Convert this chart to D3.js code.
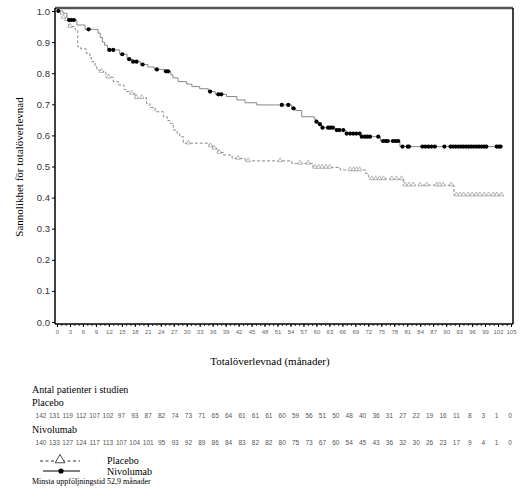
<!DOCTYPE html>
<html lang="sv">
<head>
<meta charset="UTF-8">
<title>Totalöverlevnad</title>
<script src="https://d3js.org/d3.v7.min.js"></script>
<style>
    body { margin: 0; background: #fff; }
    svg { display: block; }
    .serif { font-family: "Liberation Serif", "Times New Roman", "DejaVu Serif", serif; fill: #000; }
    .num { font-family: "Liberation Sans", Arial, sans-serif; font-size: 6.5px; fill: #555; }
</style>
</head>
<body>
<svg id="chart" width="526" height="500"></svg>
<script>
    // tick values
    const xTicks = d3.range(0, 106, 3);
    const yTicks = d3.range(0, 11).map(d => d / 10);

    // Kaplan-Meier step points [month, survival]
    const nivoSteps = [
        [0, 1.0], [1.4, 0.993], [2.3, 0.978], [2.6, 0.971], [4.6, 0.955], [6.5, 0.941],
        [9.5, 0.929], [10, 0.915], [10.5, 0.9], [11, 0.89], [11.7, 0.875], [14.5, 0.861],
        [16.2, 0.845], [17.5, 0.837], [19.3, 0.828], [21, 0.82], [22.5, 0.812], [24.8, 0.806],
        [26.3, 0.795], [26.8, 0.785], [28, 0.773], [30, 0.765], [31.2, 0.757], [33, 0.75],
        [35, 0.741], [36.6, 0.732], [39.2, 0.725], [41.6, 0.714], [43.5, 0.705], [46.2, 0.698],
        [54.3, 0.687], [55.2, 0.68], [56.6, 0.66], [59.5, 0.652], [59.9, 0.644], [60.5, 0.636],
        [61.2, 0.625], [64.3, 0.617], [66.8, 0.606], [70.2, 0.596], [74.8, 0.582], [79.3, 0.564]
    ];
    const nivoEnd = 102.6;
    const nivoCensor = [
        0.3, 2.8, 3.3, 3.9, 7.3, 12.1, 13.0, 15.1, 16.7, 17.6, 18.4, 19.8, 23.1, 25.2, 25.7,
        35.4, 37.3, 38.0, 52.0, 53.5, 54.7, 60.0, 60.8, 61.4, 62.7, 63.2, 63.8, 64.7, 65.3, 66.2,
        67.0, 67.8, 68.5, 69.2, 70.0, 70.5, 71.2, 71.8, 72.4, 74.3, 75.4, 76.0, 76.5, 77.7, 78.3,
        78.9, 79.9, 81.1, 81.4, 84.5, 85.2, 85.9, 86.6, 87.4, 89.6, 91.0, 91.6, 92.2, 92.8, 93.4,
        94.0, 94.6, 95.2, 95.8, 96.4, 97.0, 97.6, 98.2, 98.8, 99.3, 101.7, 102.2, 102.6
    ];

    const placeboSteps = [
        [0, 1.0], [0.8, 0.99], [1.2, 0.979], [2.0, 0.972], [2.7, 0.95], [4.2, 0.939],
        [4.8, 0.885], [5.5, 0.878], [6.8, 0.864], [7.6, 0.85], [8, 0.837], [8.8, 0.823],
        [9.2, 0.81], [10, 0.805], [11.3, 0.787], [13, 0.773], [14.2, 0.762], [15.5, 0.748],
        [15.9, 0.741], [16.8, 0.735], [18, 0.721], [20.7, 0.703], [21.5, 0.69], [22.7, 0.676],
        [24.6, 0.66], [25.5, 0.648], [26.1, 0.639], [26.9, 0.617], [27.8, 0.605], [28.4, 0.596],
        [29.2, 0.575], [35.2, 0.566], [36, 0.558], [37.2, 0.545], [38.5, 0.537], [40.5, 0.526],
        [43.5, 0.518], [54.3, 0.51], [59.2, 0.497], [65.5, 0.489], [71.3, 0.478], [72, 0.467],
        [72.5, 0.46], [80.2, 0.44], [91.8, 0.408]
    ];
    const placeboEnd = 102.8;
    const placeboCensor = [
        1.5, 2.2, 3.0, 10.3, 11.9, 17.3, 18.4, 19.6, 30.4, 35.5, 36.4, 37.5, 41.9, 44.2, 51.6,
        56.2, 58.1, 59.7, 60.5, 61.3, 62.2, 63.1, 67.8, 68.6, 69.3, 70.0, 72.8, 73.7, 74.6, 75.5,
        77.4, 78.5, 79.7, 80.5, 81.4, 82.4, 84.0, 85.5, 87.8, 88.5, 89.3, 91.2, 92.4, 93.2, 94.0,
        95.1, 96.0, 97.0, 97.8, 98.8, 99.8, 100.9, 101.7, 102.8
    ];

    // number at risk at each x tick
    const placeboRisk = [142, 131, 119, 112, 107, 102, 97, 93, 87, 82, 74, 73, 71, 65, 64, 61, 61, 61,
        60, 59, 56, 51, 50, 48, 40, 36, 31, 27, 22, 19, 16, 11, 8, 3, 1, 0];
    const nivoRisk = [140, 133, 127, 124, 117, 113, 107, 104, 101, 95, 93, 92, 89, 86, 84, 83, 82, 82,
        80, 75, 73, 67, 60, 54, 45, 43, 36, 32, 30, 26, 23, 17, 9, 4, 1, 0];

    const svg = d3.select("#chart");

    const x = d3.scaleLinear().domain([0, 105]).range([57, 511]);
    const y = d3.scaleLinear().domain([0, 1]).range([322, 11]);
    const frameL = 55, frameR = 513, frameT = 8, frameB = 324;

    // survival value at time t
    function survAt(steps, t) {
        const i = d3.bisectRight(steps.map(d => d[0]), t) - 1;
        return steps[Math.max(i, 0)][1];
    }

    // axes
    const yAxis = d3.axisLeft(y).tickValues(yTicks).tickFormat(d3.format(".1f")).tickSize(3).tickPadding(2);
    const gy = svg.append("g").attr("transform", `translate(${frameL},0)`).call(yAxis);
    gy.select(".domain").remove();
    gy.selectAll("text").attr("font-family", "Liberation Sans, Arial, sans-serif")
        .attr("font-size", 9.5).attr("fill", "#333");
    gy.selectAll("line").attr("stroke", "#000");

    const xMinor = d3.axisBottom(x).tickValues(d3.range(0, 106, 1)).tickSize(2).tickFormat("");
    const gxm = svg.append("g").attr("transform", `translate(0,${frameB})`).call(xMinor);
    gxm.select(".domain").remove();
    gxm.selectAll("line").attr("stroke", "#333");

    const xAxis = d3.axisBottom(x).tickValues(xTicks).tickSize(3).tickPadding(3);
    const gx = svg.append("g").attr("transform", `translate(0,${frameB})`).call(xAxis);
    gx.select(".domain").remove();
    gx.selectAll("text").attr("font-family", "Liberation Sans, Arial, sans-serif")
        .attr("font-size", 6).attr("fill", "#666");
    gx.selectAll("line").attr("stroke", "#000");

    // frame
    svg.append("line").attr("x1", frameL).attr("x2", frameR).attr("y1", frameT).attr("y2", frameT)
        .attr("stroke", "#555").attr("stroke-width", 2.5);
    svg.append("line").attr("x1", frameR).attr("x2", frameR).attr("y1", frameT).attr("y2", frameB)
        .attr("stroke", "#000").attr("stroke-width", 1.5);
    svg.append("line").attr("x1", frameL).attr("x2", frameL).attr("y1", frameT).attr("y2", frameB)
        .attr("stroke", "#000").attr("stroke-width", 1.5);
    svg.append("line").attr("x1", frameL).attr("x2", frameR).attr("y1", frameB).attr("y2", frameB)
        .attr("stroke", "#000").attr("stroke-width", 1.5);

    const line = d3.line().x(d => x(d[0])).y(d => y(d[1])).curve(d3.curveStepAfter);

    // placebo curve
    const placeboPts = placeboSteps.concat([[placeboEnd, placeboSteps[placeboSteps.length - 1][1]]]);
    svg.append("path").datum(placeboPts).attr("d", line)
        .attr("fill", "none").attr("stroke", "#888").attr("stroke-width", 1)
        .attr("stroke-dasharray", "3,2");

    // nivolumab curve
    const nivoPts = nivoSteps.concat([[nivoEnd, nivoSteps[nivoSteps.length - 1][1]]]);
    svg.append("path").datum(nivoPts).attr("d", line)
        .attr("fill", "none").attr("stroke", "#888").attr("stroke-width", 1);

    // censor marks
    const tri = d3.symbol(d3.symbolTriangle, 9);
    svg.append("g").selectAll("path")
        .data(placeboCensor).enter().append("path")
        .attr("d", tri)
        .attr("transform", d => `translate(${x(d)},${y(survAt(placeboSteps, d)) - 0.5})`)
        .attr("fill", "#fff").attr("stroke", "#888").attr("stroke-width", 0.6);

    svg.append("g").selectAll("circle")
        .data(nivoCensor).enter().append("circle")
        .attr("cx", d => x(d)).attr("cy", d => y(survAt(nivoSteps, d)))
        .attr("r", 2.1).attr("fill", "#000");

    // axis titles
    svg.append("text").attr("class", "serif")
        .attr("transform", "translate(23,167) rotate(-90)")
        .attr("text-anchor", "middle").attr("font-size", 11)
        .text("Sannolikhet för totalöverlevnad");

    svg.append("text").attr("class", "serif")
        .attr("x", 270).attr("y", 365)
        .attr("text-anchor", "middle").attr("font-size", 11)
        .text("Totalöverlevnad (månader)");

    // number at risk table
    const xr = d3.scalePoint().domain(d3.range(xTicks.length)).range([41, 510]);

    svg.append("text").attr("class", "serif").attr("x", 32).attr("y", 393)
        .attr("font-size", 10).text("Antal patienter i studien");
    svg.append("text").attr("class", "serif").attr("x", 32).attr("y", 406)
        .attr("font-size", 10).text("Placebo");
    svg.append("g").selectAll("text")
        .data(placeboRisk).enter().append("text")
        .attr("class", "num").attr("text-anchor", "middle")
        .attr("x", (d, i) => xr(i)).attr("y", 418).text(d => d);

    svg.append("text").attr("class", "serif").attr("x", 32).attr("y", 433)
        .attr("font-size", 10).text("Nivolumab");
    svg.append("g").selectAll("text")
        .data(nivoRisk).enter().append("text")
        .attr("class", "num").attr("text-anchor", "middle")
        .attr("x", (d, i) => xr(i)).attr("y", 445).text(d => d);

    // legend
    const lg = svg.append("g");
    lg.append("line").attr("x1", 40).attr("x2", 80).attr("y1", 461).attr("y2", 461)
        .attr("stroke", "#000").attr("stroke-width", 0.8).attr("stroke-dasharray", "3,2.5");
    lg.append("path").attr("d", d3.symbol(d3.symbolTriangle, 40))
        .attr("transform", "translate(60,460)")
        .attr("fill", "#fff").attr("stroke", "#000").attr("stroke-width", 0.7);
    lg.append("text").attr("class", "serif").attr("x", 107).attr("y", 464)
        .attr("font-size", 10).text("Placebo");

    lg.append("line").attr("x1", 43).attr("x2", 80).attr("y1", 471).attr("y2", 471)
        .attr("stroke", "#000").attr("stroke-width", 1);
    lg.append("circle").attr("cx", 61).attr("cy", 471).attr("r", 2.6).attr("fill", "#000");
    lg.append("text").attr("class", "serif").attr("x", 107).attr("y", 475)
        .attr("font-size", 10).text("Nivolumab");

    svg.append("text").attr("class", "serif").attr("x", 32).attr("y", 484)
        .attr("font-size", 8).text("Minsta uppföljningstid 52,9 månader");
</script>
</body>
</html>
